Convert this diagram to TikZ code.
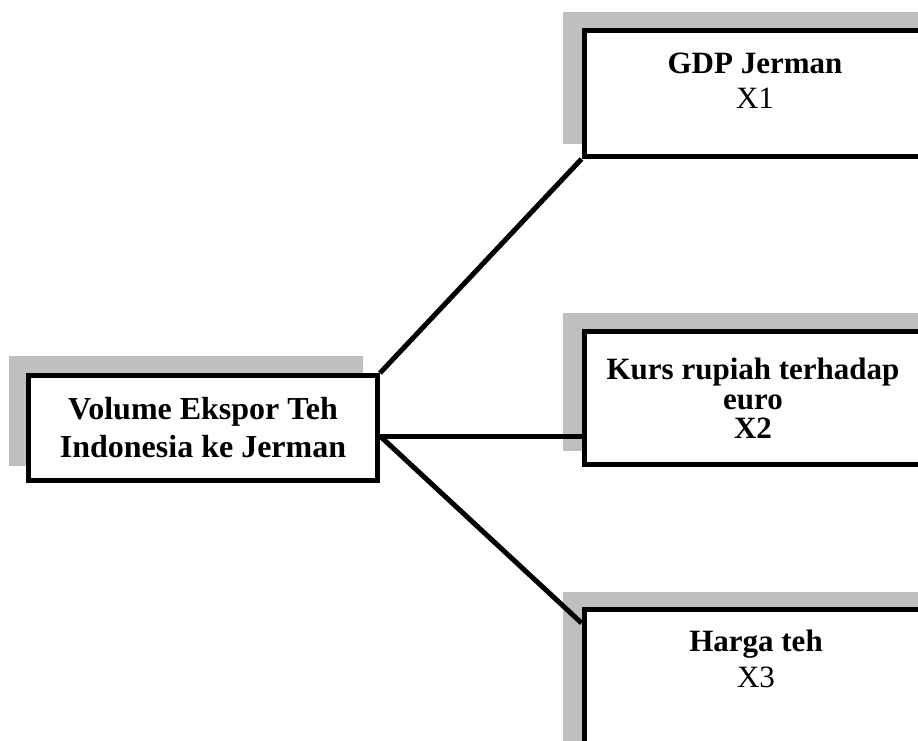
\documentclass[tikz,border=0pt]{standalone}
\usepackage{fontspec}
\setmainfont{Liberation Serif}
\usetikzlibrary{positioning,calc,shadows}

\begin{document}
\begin{tikzpicture}[x=1pt,y=1pt,
  box/.style={draw,line width=5pt,fill=white,inner sep=0pt},
  lshadow/.style={general shadow={fill=black!25,draw=black!25,shadow xshift=-17pt,shadow yshift=17pt}},
  rshadow/.style={general shadow={fill=black!25,draw=black!25,shadow xshift=-19pt,shadow yshift=15.5pt}},
  link/.style={line width=5pt},
  lbl/.style={align=center,inner sep=0pt,anchor=north}]
\useasboundingbox (0,0) rectangle (918,-740);
\clip (0,0) rectangle (918,-740);
% dependent variable
\node[box,lshadow,minimum width=349pt,minimum height=105pt,align=center,
  font=\fontsize{32}{38}\selectfont\bfseries] (vol) at (203,-428)
  {Volume Ekspor Teh\\Indonesia ke Jerman};
% independent variables X1..X3
\node[box,rshadow,minimum width=400pt,minimum height=126.5pt] (gdp) at (784,-93.25) {};
\node[box,rshadow,minimum width=400pt,minimum height=133pt] (kurs) at (784,-397.5) {};
\node[box,rshadow,minimum width=400pt,minimum height=160pt] (harga) at (784,-689.5) {};
\node[lbl,font=\fontsize{31}{35}\selectfont] (gdptxt) at ([xshift=173.5pt,yshift=-25pt]gdp.north west)
  {\textbf{GDP Jerman}\\X1};
\node[lbl,font=\fontsize{31}{29.5}\selectfont\bfseries] (kurstxt) at ([xshift=171.5pt,yshift=-29.5pt]kurs.north west)
  {Kurs rupiah terhadap\\euro\\X2};
\node[lbl,font=\fontsize{31}{36}\selectfont] (hargatxt) at ([xshift=174.5pt,yshift=-22.7pt]harga.north west)
  {\textbf{Harga teh}\\X3};
% connectors
\coordinate (hub) at ([yshift=-8pt]vol.east);
\coordinate (hin) at ([yshift=-16pt]harga.north west);
\draw[link] (vol.north east) -- (gdp.south west);
\draw[link] (hub) -- (hub -| kurs.west);
\draw[link] (hub) -- (hin);
\end{tikzpicture}
\end{document}
